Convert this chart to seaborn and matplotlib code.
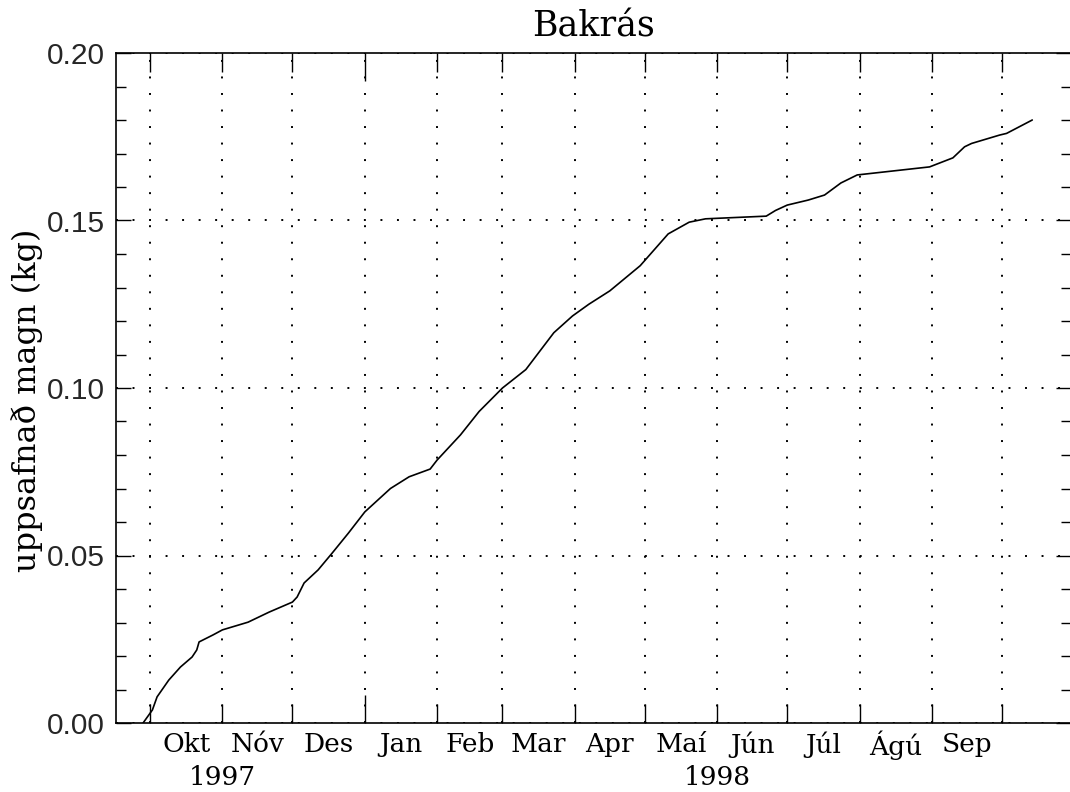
import matplotlib
matplotlib.use("Agg")
import matplotlib.pyplot as plt
import matplotlib.dates as mdates
from matplotlib.ticker import FixedLocator, MultipleLocator, FormatStrFormatter, NullFormatter
import seaborn as sns
import pandas as pd

title = "Bakrás"
ylabel = "uppsafnað magn (kg)"
month_labels = ["Okt", "Nóv", "Des", "Jan", "Feb", "Mar", "Apr", "Maí", "Jún", "Júl", "Ágú", "Sep"]
year_labels = ["1997", "1998"]
year_label_dates = ["1997-11-01", "1998-06-01"]

dates = [
    "1997-09-28", "1997-10-02", "1997-10-04", "1997-10-09", "1997-10-14", "1997-10-19",
    "1997-10-21", "1997-10-22", "1997-10-28", "1997-11-01", "1997-11-12", "1997-11-21",
    "1997-12-01", "1997-12-03", "1997-12-06", "1997-12-12", "1997-12-18", "1997-12-25",
    "1998-01-01", "1998-01-12", "1998-01-20", "1998-01-29", "1998-02-01", "1998-02-11",
    "1998-02-19", "1998-03-01", "1998-03-11", "1998-03-23", "1998-03-31", "1998-04-07",
    "1998-04-16", "1998-04-29", "1998-05-11", "1998-05-20", "1998-05-27", "1998-06-22",
    "1998-06-26", "1998-07-01", "1998-07-10", "1998-07-17", "1998-07-24", "1998-07-31",
    "1998-08-31", "1998-09-10", "1998-09-15", "1998-09-18", "1998-09-30", "1998-10-03",
    "1998-10-14",
]
values = [
    0.0000, 0.0039, 0.0078, 0.0128, 0.0167, 0.0197,
    0.0218, 0.0242, 0.0263, 0.0278, 0.0301, 0.0331,
    0.0361, 0.0376, 0.0418, 0.0457, 0.0507, 0.0567,
    0.0630, 0.0700, 0.0735, 0.0758, 0.0785, 0.0860,
    0.0930, 0.1000, 0.1055, 0.1165, 0.1215, 0.1250,
    0.1290, 0.1365, 0.1460, 0.1495, 0.1505, 0.1513,
    0.1530, 0.1546, 0.1561, 0.1576, 0.1612, 0.1636,
    0.1660, 0.1687, 0.1720, 0.1730, 0.1755, 0.1760,
    0.1800,
]

df = pd.DataFrame({"date": pd.to_datetime(dates), "value": values})
month_starts = pd.date_range("1997-10-01", "1998-10-01", freq="MS")

sns.set_style("white")
plt.rcParams["font.family"] = ["DejaVu Serif"]

fig = plt.figure(figsize=(10.7, 7.92), dpi=100)
ax = fig.add_axes([116 / 1070, 69 / 792, 955 / 1070, 670 / 792])

sns.lineplot(data=df, x="date", y="value", ax=ax, color="black", linewidth=1.2)

d0 = mdates.date2num(pd.Timestamp("1997-10-01"))
d1 = mdates.date2num(pd.Timestamp("1998-10-01"))
ax.set_xlim(d0 - 14.6, d1 + 29.6)
ax.set_ylim(0, 0.20)

jan = [mdates.date2num(m) for m in month_starts if m.month == 1]
other = [mdates.date2num(m) for m in month_starts if m.month != 1]
ax.xaxis.set_major_locator(FixedLocator(other))
ax.xaxis.set_minor_locator(FixedLocator(jan))
ax.xaxis.set_major_formatter(NullFormatter())
ax.xaxis.set_minor_formatter(NullFormatter())
ax.tick_params(axis="x", which="major", direction="in", length=14, width=1.0,
               top=True, bottom=True, labelbottom=False, color="black")
ax.tick_params(axis="x", which="minor", direction="in", length=20, width=1.0,
               top=True, bottom=True, labelbottom=False, color="black")

ax.yaxis.set_major_locator(MultipleLocator(0.05))
ax.yaxis.set_minor_locator(MultipleLocator(0.01))
ax.yaxis.set_major_formatter(FormatStrFormatter("%.2f"))
ax.tick_params(axis="y", which="major", direction="in", length=11, width=1.0,
               left=True, right=True, color="black", pad=8, labelsize=21.5)
ax.tick_params(axis="y", which="minor", direction="in", length=7, width=1.0,
               left=True, right=True, color="black")
for lab in ax.get_yticklabels():
    lab.set_family(["Liberation Sans", "DejaVu Sans"])

dot = (0, (1, 7.5))
ax.grid(axis="x", which="both", linestyle=dot, color="black", linewidth=1.4)
ax.grid(axis="y", which="major", linestyle=dot, color="black", linewidth=1.4)

for s in ax.spines.values():
    s.set_color("black")
    s.set_linewidth(1.2)

xt = ax.get_xaxis_transform()
for i, lab in enumerate(month_labels):
    a = mdates.date2num(month_starts[i])
    b = mdates.date2num(month_starts[i + 1])
    ax.text((a + b) / 2, -0.0328, lab, transform=xt, ha="center", va="center",
            fontsize=19, color="black")
for lab, d in zip(year_labels, year_label_dates):
    ax.text(mdates.date2num(pd.Timestamp(d)), -0.082, lab, transform=xt,
            ha="center", va="center", fontsize=19, color="black")

ax.set_title(title, fontsize=25, pad=12, color="black")
ax.set_xlabel("")
ax.set_ylabel(ylabel, fontsize=23, va="center", color="black")
ax.yaxis.set_label_coords(-0.093, 0.481)

fig.savefig("out.png", dpi=100, facecolor="white")
